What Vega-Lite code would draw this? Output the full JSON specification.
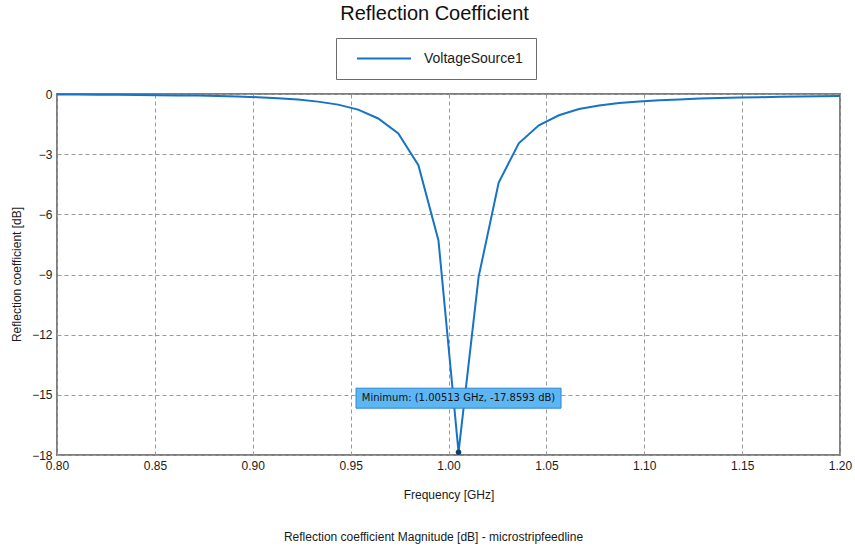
{
  "$schema": "https://vega.github.io/schema/vega-lite/v6.json",
  "width": 783,
  "height": 361,
  "autosize": {"type": "none"},
  "padding": {"left": 57, "top": 94, "right": 15, "bottom": 95},
  "background": "#ffffff",
  "title": {
    "text": "Reflection Coefficient",
    "anchor": "middle",
    "frame": "group",
    "dx": -14,
    "offset": 14,
    "font": "Liberation Sans",
    "fontSize": 20,
    "fontWeight": "normal",
    "color": "#111111"
  },
  "config": {
    "view": {"stroke": "#7f7f7f", "strokeWidth": 2},
    "axis": {
      "labelFont": "Liberation Sans",
      "labelFontSize": 12,
      "labelColor": "#1a1a1a",
      "titleFont": "Liberation Sans",
      "titleFontSize": 12,
      "titleFontWeight": "normal",
      "titleColor": "#1a1a1a",
      "domain": false,
      "ticks": false,
      "labelFlush": false,
      "gridColor": "#9a9a9a",
      "gridDash": [4, 3],
      "gridWidth": 1,
      "gridOpacity": 1
    },
    "legend": {
      "labelFont": "Liberation Sans",
      "labelFontSize": 14,
      "labelColor": "#1a1a1a"
    }
  },
  "datasets": {
    "sweep": [
      {"freq": 0.80000, "db": -0.03, "series": "VoltageSource1"},
      {"freq": 0.81026, "db": -0.03, "series": "VoltageSource1"},
      {"freq": 0.82051, "db": -0.04, "series": "VoltageSource1"},
      {"freq": 0.83077, "db": -0.04, "series": "VoltageSource1"},
      {"freq": 0.84103, "db": -0.05, "series": "VoltageSource1"},
      {"freq": 0.85128, "db": -0.06, "series": "VoltageSource1"},
      {"freq": 0.86154, "db": -0.07, "series": "VoltageSource1"},
      {"freq": 0.87179, "db": -0.08, "series": "VoltageSource1"},
      {"freq": 0.88205, "db": -0.10, "series": "VoltageSource1"},
      {"freq": 0.89231, "db": -0.13, "series": "VoltageSource1"},
      {"freq": 0.90256, "db": -0.16, "series": "VoltageSource1"},
      {"freq": 0.91282, "db": -0.21, "series": "VoltageSource1"},
      {"freq": 0.92308, "db": -0.28, "series": "VoltageSource1"},
      {"freq": 0.93333, "db": -0.38, "series": "VoltageSource1"},
      {"freq": 0.94359, "db": -0.53, "series": "VoltageSource1"},
      {"freq": 0.95385, "db": -0.78, "series": "VoltageSource1"},
      {"freq": 0.96410, "db": -1.22, "series": "VoltageSource1"},
      {"freq": 0.97436, "db": -1.97, "series": "VoltageSource1"},
      {"freq": 0.98462, "db": -3.55, "series": "VoltageSource1"},
      {"freq": 0.99487, "db": -7.30, "series": "VoltageSource1"},
      {"freq": 1.00513, "db": -17.8593, "series": "VoltageSource1"},
      {"freq": 1.01538, "db": -9.12, "series": "VoltageSource1"},
      {"freq": 1.02564, "db": -4.42, "series": "VoltageSource1"},
      {"freq": 1.03590, "db": -2.46, "series": "VoltageSource1"},
      {"freq": 1.04615, "db": -1.56, "series": "VoltageSource1"},
      {"freq": 1.05641, "db": -1.06, "series": "VoltageSource1"},
      {"freq": 1.06667, "db": -0.75, "series": "VoltageSource1"},
      {"freq": 1.07692, "db": -0.57, "series": "VoltageSource1"},
      {"freq": 1.08718, "db": -0.45, "series": "VoltageSource1"},
      {"freq": 1.09744, "db": -0.37, "series": "VoltageSource1"},
      {"freq": 1.10769, "db": -0.31, "series": "VoltageSource1"},
      {"freq": 1.11795, "db": -0.27, "series": "VoltageSource1"},
      {"freq": 1.12821, "db": -0.23, "series": "VoltageSource1"},
      {"freq": 1.13846, "db": -0.20, "series": "VoltageSource1"},
      {"freq": 1.14872, "db": -0.18, "series": "VoltageSource1"},
      {"freq": 1.15897, "db": -0.16, "series": "VoltageSource1"},
      {"freq": 1.16923, "db": -0.14, "series": "VoltageSource1"},
      {"freq": 1.17949, "db": -0.13, "series": "VoltageSource1"},
      {"freq": 1.18974, "db": -0.11, "series": "VoltageSource1"},
      {"freq": 1.20000, "db": -0.10, "series": "VoltageSource1"}
    ],
    "minimum": [
      {"freq": 1.00513, "db": -17.8593, "label": "Minimum: (1.00513 GHz, -17.8593 dB)"}
    ]
  },
  "layer": [
    {
      "data": {"name": "sweep"},
      "mark": {"type": "line", "strokeWidth": 2, "interpolate": "linear"},
      "encoding": {
        "x": {
          "field": "freq",
          "type": "quantitative",
          "scale": {"domain": [0.8, 1.2], "nice": false, "zero": false},
          "axis": {
            "values": [0.8, 0.85, 0.9, 0.95, 1.0, 1.05, 1.1, 1.15, 1.2],
            "format": ".2f",
            "labelPadding": 5,
            "title": "Frequency [GHz]",
            "titleY": 39,
            "titleBaseline": "middle"
          }
        },
        "y": {
          "field": "db",
          "type": "quantitative",
          "scale": {"domain": [-18, 0], "nice": false, "zero": false},
          "axis": {
            "values": [0, -3, -6, -9, -12, -15, -18],
            "labelPadding": 5,
            "title": "Reflection coefficient [dB]",
            "titleX": -34,
            "titleY": 180,
            "titleBaseline": "bottom"
          }
        },
        "color": {
          "field": "series",
          "type": "nominal",
          "scale": {"range": ["#1673c5"]},
          "legend": {
            "title": null,
            "orient": "none",
            "legendX": 279,
            "legendY": -56,
            "symbolType": "M-1,0H1",
            "symbolSize": 2916,
            "symbolOffset": 7,
            "symbolStrokeWidth": 2,
            "labelOffset": 12,
            "clipHeight": 15,
            "padding": 13,
            "strokeColor": "#6b6b6b",
            "fillColor": "#ffffff"
          }
        }
      }
    },
    {
      "data": {"name": "minimum"},
      "encoding": {
        "x": {"field": "freq", "type": "quantitative"},
        "y": {
          "field": "db",
          "type": "quantitative",
          "scale": {"domain": [-18, 0], "nice": false, "zero": false},
          "axis": {
            "orient": "right",
            "labels": false,
            "grid": false,
            "title": "Reflection coefficient Magnitude [dB] - microstripfeedline",
            "titleAngle": 0,
            "titleAlign": "center",
            "titleBaseline": "middle",
            "titleX": -407,
            "titleY": 442
          }
        }
      },
      "layer": [
        {
          "mark": {
            "type": "point",
            "shape": "M-1,-0.0976H1V0.0976H-1Z",
            "size": 42025,
            "filled": true,
            "fill": "#5db6f4",
            "stroke": "#2d86d0",
            "strokeWidth": 1,
            "opacity": 1,
            "yOffset": -54
          }
        },
        {
          "mark": {
            "type": "text",
            "font": "DejaVu Sans",
            "fontSize": 10,
            "color": "#111111",
            "align": "center",
            "baseline": "middle",
            "yOffset": -54
          },
          "encoding": {"text": {"field": "label"}}
        },
        {
          "mark": {"type": "point", "filled": true, "size": 30, "color": "#0d3e70", "opacity": 1}
        }
      ]
    }
  ],
  "resolve": {"scale": {"y": "independent"}}
}
